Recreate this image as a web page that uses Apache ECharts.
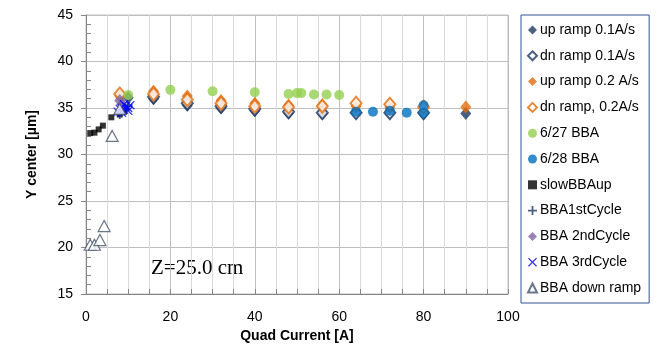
<!DOCTYPE html>
<html><head><meta charset="utf-8">
<script src="https://cdn.jsdelivr.net/npm/echarts@6/dist/echarts.min.js"></script>
<style>html,body{margin:0;padding:0;background:#fff}#c{width:664px;height:348px}</style>
</head><body><div id="c"></div>
<script>
// Data (x = Quad Current [A], y = Y center [µm])
const upRamp01 = [[10,36.1],[16,36.0],[24,35.3],[32,35.0],[40,34.7],[48,34.45],[56,34.4],[64,34.45],[72,34.45],[80,34.4],[90,34.4]];
const dnRamp01 = [[16,36.2],[24,35.5],[32,35.2],[40,34.9],[48,34.6],[56,34.5],[64,34.5],[72,34.5],[80,34.5]];
const upRamp02 = [[8,36.3],[16,36.8],[24,36.3],[32,35.8],[40,35.5],[48,35.3],[56,35.3],[64,35.2],[72,35.1],[80,35.0],[90,35.1]];
const dnRamp02 = [[8,36.5],[16,36.5],[24,35.9],[32,35.5],[40,35.2],[48,35.1],[56,35.2],[64,35.5],[72,35.4],[80,35.1]];
const bba0627 = [[10,36.4],[20,36.95],[30,36.8],[40,36.7],[48,36.5],[50,36.6],[51,36.6],[54,36.45],[57,36.45],[60,36.4]];
const bba0628 = [[64,34.6],[68,34.6],[72,34.7],[76,34.5],[80,35.3],[80,34.5]];
const slowBBAup = [[1,32.3],[2,32.35],[3,32.7],[4,33.1],[6,34.0],[8,34.3],[9,34.6]];
const bba1st = [[8,34.3],[9,34.8],[10,35.2]];
const bba2nd = [[8,35.8],[8.5,35.4]];
const bba3rd = [[7.5,34.6],[8,34.9],[8.5,35.0],[9,34.8],[9.5,35.2],[10,35.0],[10.5,35.3],[9,35.4],[8.5,34.5],[10,34.7]];
const bbaDown = [[1,20.3],[2,20.3],[3.3,20.8],[4.3,22.3],[6.2,32.0],[8,34.9]];

const NAVY = '#1f3864', ORANGE = '#e46c0a', GREEN = '#92d050', BLUE = '#0070c0', PURPLE = '#8064a2', XBLUE = '#0000ff', TRI = '#44546a';
const FONT = '"Liberation Sans", Arial, sans-serif';
const PLUS = 'path://M4,0h2v4h4v2h-4v4h-2v-4h-4v-2h4z';
const CROSS = 'path://M0,1L1,0L5,4L9,0L10,1L6,5L10,9L9,10L5,6L1,10L0,9L4,5Z';

function s(name, data, symbol, size, style){
  return {name, type:'scatter', data, symbol, symbolSize:size, itemStyle:style, emphasis:{disabled:true}};
}
const series = [
  s('up ramp 0.1A/s', upRamp01, 'diamond', [11,13], {color:NAVY}),
  s('dn ramp 0.1A/s', dnRamp01, 'diamond', [11,13], {color:'#fff', borderColor:NAVY, borderWidth:2}),
  s('up ramp 0.2 A/s', upRamp02, 'diamond', [11,13], {color:ORANGE}),
  s('dn ramp, 0.2A/s', dnRamp02, 'diamond', [11,13], {color:'#fff', borderColor:ORANGE, borderWidth:2}),
  s('6/27 BBA', bba0627, 'circle', 10, {color:GREEN}),
  s('6/28 BBA', bba0628, 'circle', 10, {color:BLUE}),
  s('slowBBAup', slowBBAup, 'rect', 6, {color:'#000'}),
  s('BBA1stCycle', bba1st, PLUS, 9, {color:NAVY}),
  s('BBA 2ndCycle', bba2nd, 'diamond', [11,13], {color:PURPLE}),
  s('BBA 3rdCycle', bba3rd, CROSS, 9, {color:XBLUE}),
  s('BBA down ramp', bbaDown, 'triangle', [12,11], {color:'#fff', borderColor:TRI, borderWidth:1.2})
];

const chart = echarts.init(document.getElementById('c'), null, {renderer:'canvas'});
chart.setOption({
  animation:false,
  backgroundColor:'#fff',
  grid:{left:86, right:156, top:15, bottom:51, show:true, borderColor:'#bfbfbf', borderWidth:1},
  xAxis:{
    type:'value', min:0, max:100, interval:20,
    name:'Quad Current [A]', nameLocation:'middle', nameGap:35,
    nameTextStyle:{fontFamily:FONT, fontSize:14, fontWeight:'bold', color:'#000'},
    axisLine:{onZero:false, lineStyle:{color:'#868686'}},
    axisTick:{show:true, inside:true, length:5, lineStyle:{color:'#868686'}},
    minorTick:{show:true, splitNumber:4, length:5, lineStyle:{color:'#868686'}},
    axisLabel:{fontFamily:FONT, fontSize:14, color:'#000', margin:16},
    splitLine:{show:true, lineStyle:{color:'#bfbfbf'}},
    minorSplitLine:{show:true, lineStyle:{color:'#d9d9d9'}}
  },
  yAxis:{
    type:'value', min:15, max:45, interval:5,
    name:'Y center [µm]', nameLocation:'middle', nameGap:47, nameRotate:90,
    nameTextStyle:{fontFamily:FONT, fontSize:14, fontWeight:'bold', color:'#000'},
    axisLine:{show:true, lineStyle:{color:'#868686'}},
    axisTick:{show:true, length:5, lineStyle:{color:'#868686'}},
    minorTick:{show:true, splitNumber:5, length:-5, lineStyle:{color:'#868686'}},
    axisLabel:{fontFamily:FONT, fontSize:14, color:'#000', margin:13},
    splitLine:{show:true, lineStyle:{color:'#bfbfbf'}}
  },
  legend:{
    orient:'vertical', left:521, top:15, width:138,
    padding:[8,8,8,6], itemGap:11.8, itemWidth:9, itemHeight:9,
    borderColor:'#2f5496', borderWidth:1, backgroundColor:'#fff',
    textStyle:{fontFamily:FONT, fontSize:14, color:'#000', padding:[0,0,0,-2]},
    data:series.map(x=>x.name)
  },
  graphic:[{type:'text', left:151, top:258, style:{text:'Z=25.0 cm', font:'21px "Liberation Serif", "Times New Roman", serif', fill:'#000'}}],
  series
});
</script></body></html>
